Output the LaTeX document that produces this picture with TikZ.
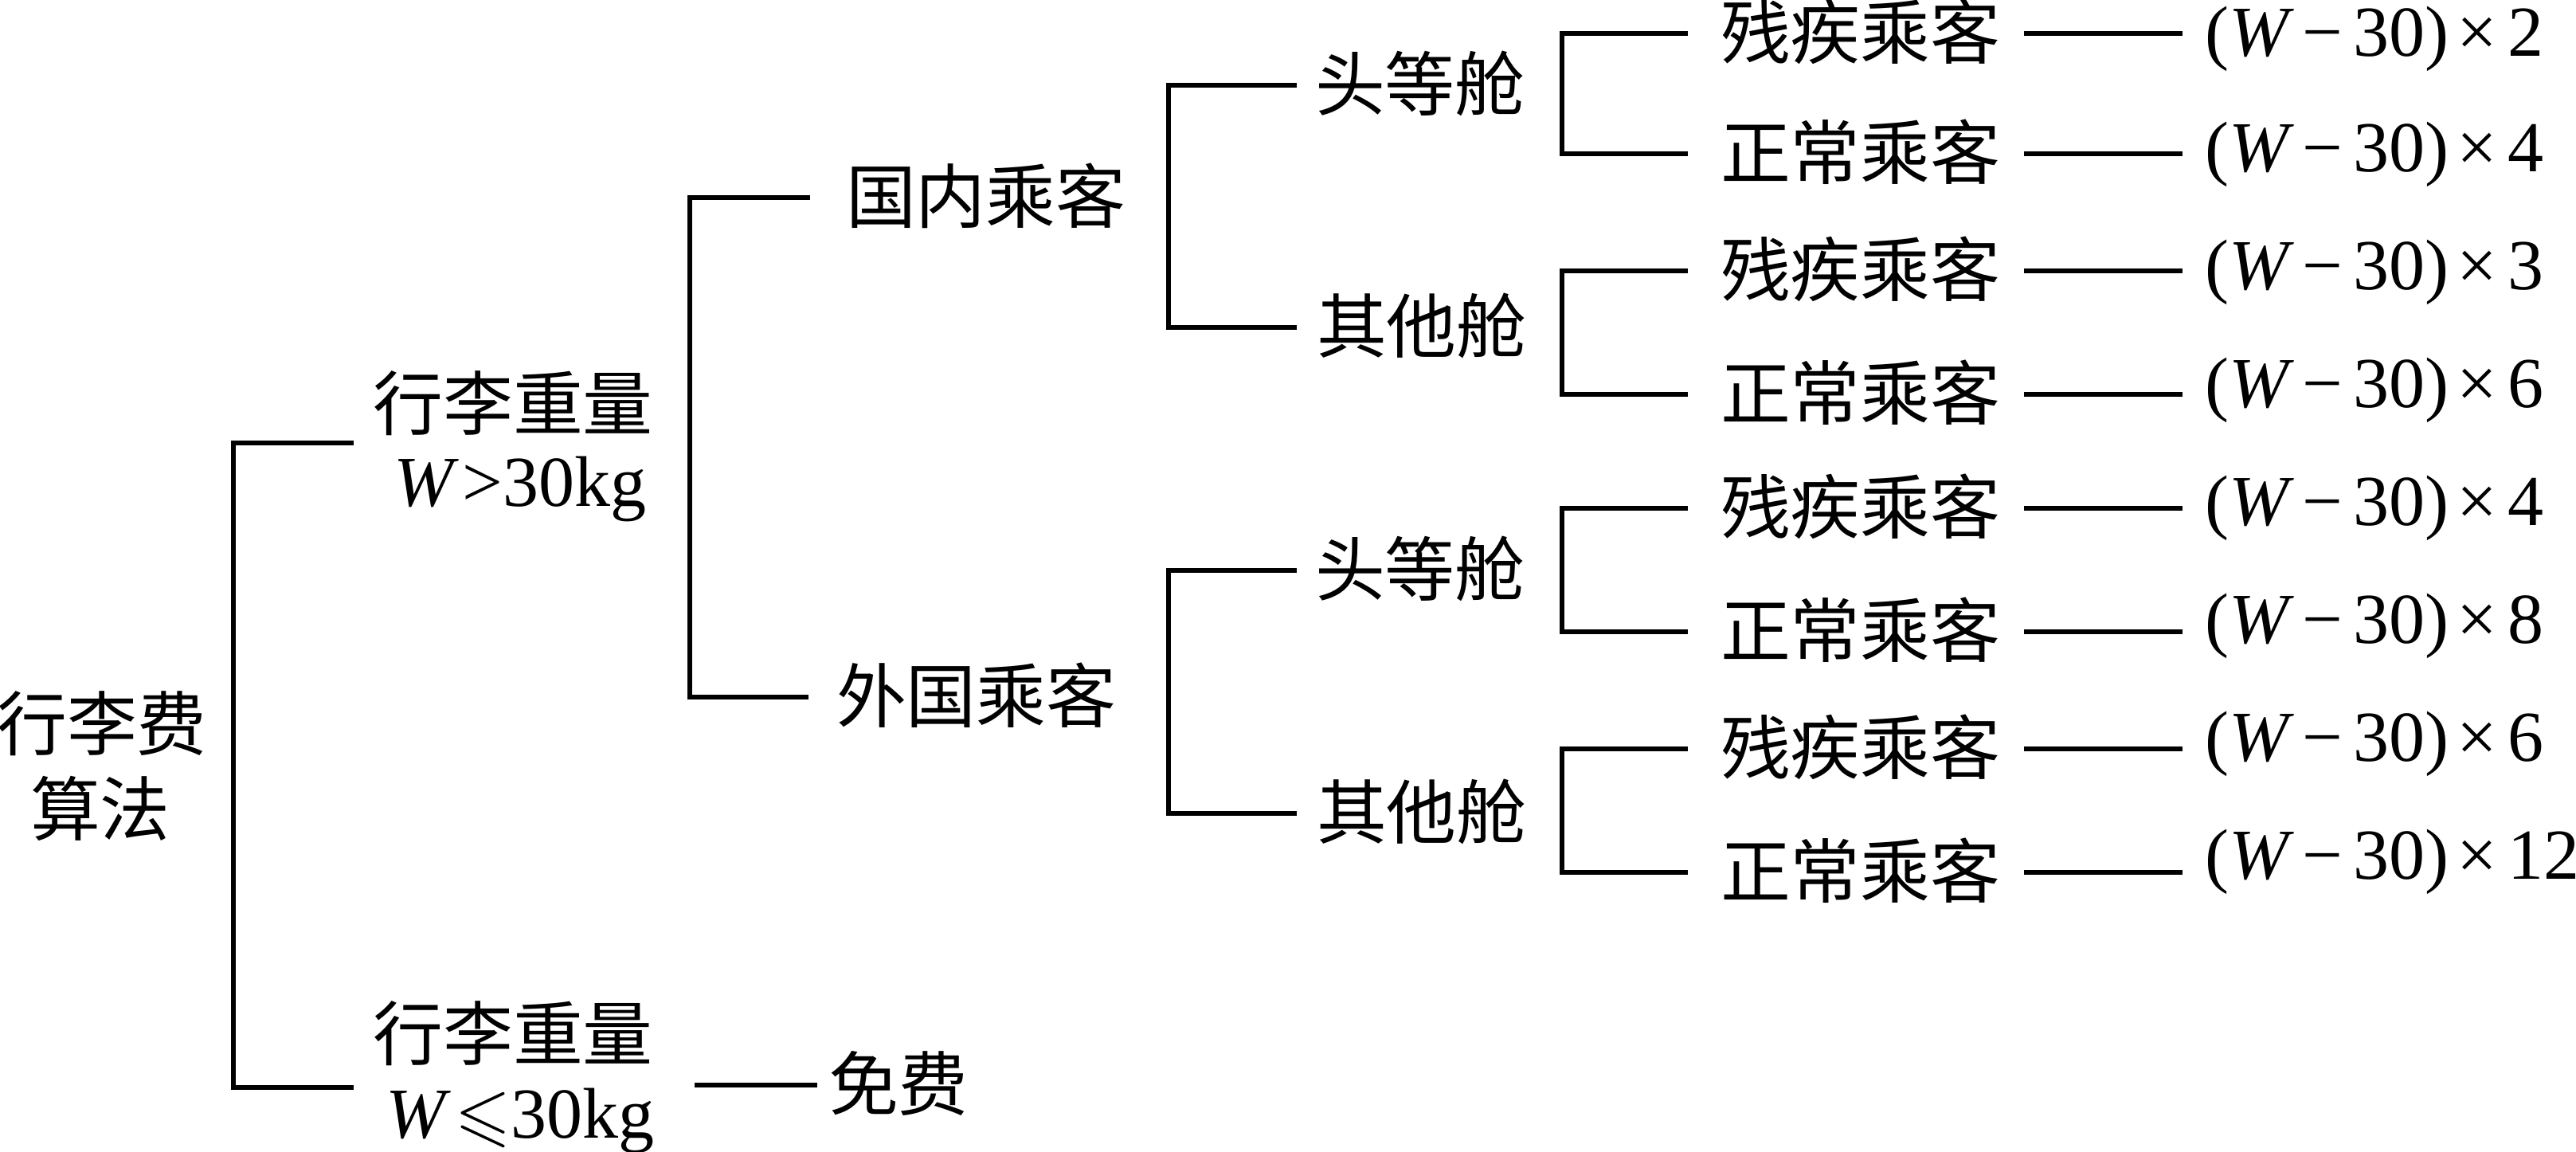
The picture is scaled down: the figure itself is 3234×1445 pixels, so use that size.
\documentclass[tikz,border=0pt]{standalone}
\usepackage{fontspec}
\usepackage{amssymb}
\setmainfont{Liberation Serif}
\newfontfamily\cjk{Noto Sans CJK SC}
\newcommand{\fml}[1]{(\textit{W}\kern0.12em−\kern0.14em30)\kern0.12em×\kern0.14em#1}
\begin{document}
\begin{tikzpicture}[x=0.01cm,y=-0.01cm,
  ln/.style={line width=1.5pt},
  every node/.style={inner sep=0pt,outer sep=0pt,font=\fontsize{25.6}{27}\selectfont},
  cj/.style={anchor=west,text height=0.62cm,text depth=0pt,font=\fontsize{25}{27}\selectfont\cjk},
  cjc/.style={cj,anchor=center},
  fm/.style={anchor=west,text height=0.60cm,text depth=0pt},
  lt/.style={anchor=base}]
\useasboundingbox (0,0) rectangle (3234,1445);
% root
\node[cjc] (r1) at (128,910) {行李费};
\node[cjc] (r2) at (126,1017) {算法};
% level 1
\node[cjc] (a1) at (644,508) {行李重量};
\node[lt] (a2) at (653,635) {\textit{W}\kern0.05em>30kg};
\node[cjc] (b1) at (644,1299) {行李重量};
\node[lt] (b2) at (653,1428) {\textit{W}\kern0.05em$\leqslant$30kg};
\coordinate (ta) at (444,556);
\coordinate (tb) at (444,1365);
\draw[ln] (ta) -- ++(-151,0) |- (tb);
% free
\node[cj] (mf) at (1040,1362) {免费};
\draw[ln] ([xshift=-0.14cm]mf.west) -- ++(-154,0);
% level 2
\node[cj] (gn) at (1062,248) {国内乘客};
\node[cj] (gw) at (1050,875) {外国乘客};
\draw[ln] ([xshift=-0.45cm]gn.west) -- ++(-151,0) |- ([xshift=-0.35cm]gw.west);
% level 3
\node[cj] (c1) at (1651,107) {头等舱};
\node[cj] (c2) at (1653,411) {其他舱};
\node[cj] (c3) at (1651,716) {头等舱};
\node[cj] (c4) at (1653,1021) {其他舱};
\draw[ln] ([xshift=-0.23cm]c1.west) -- ++(-161,0) |- ([xshift=-0.25cm]c2.west);
\draw[ln] ([xshift=-0.23cm]c3.west) -- ++(-161,0) |- ([xshift=-0.25cm]c4.west);
% leaves
\node[cj] (p1) at (2160,42) {残疾乘客};
\node[cj] (p2) at (2160,193) {正常乘客};
\node[cj] (p3) at (2160,340) {残疾乘客};
\node[cj] (p4) at (2160,495) {正常乘客};
\node[cj] (p5) at (2160,638) {残疾乘客};
\node[cj] (p6) at (2160,793) {正常乘客};
\node[cj] (p7) at (2160,940) {残疾乘客};
\node[cj] (p8) at (2160,1095) {正常乘客};
\draw[ln] ([xshift=-0.41cm]p1.west) -- ++(-158,0) |- ([xshift=-0.41cm]p2.west);
\draw[ln] ([xshift=-0.41cm]p3.west) -- ++(-158,0) |- ([xshift=-0.41cm]p4.west);
\draw[ln] ([xshift=-0.41cm]p5.west) -- ++(-158,0) |- ([xshift=-0.41cm]p6.west);
\draw[ln] ([xshift=-0.41cm]p7.west) -- ++(-158,0) |- ([xshift=-0.41cm]p8.west);
% formulas
\node[fm] (f1) at (2768,40) {\fml{2}};
\node[fm] (f2) at (2768,185) {\fml{4}};
\node[fm] (f3) at (2768,333) {\fml{3}};
\node[fm] (f4) at (2768,481) {\fml{6}};
\node[fm] (f5) at (2768,629) {\fml{4}};
\node[fm] (f6) at (2768,777) {\fml{8}};
\node[fm] (f7) at (2768,925) {\fml{6}};
\node[fm] (f8) at (2768,1073) {\fml{12}};
\foreach \i in {1,...,8}{
  \draw[ln] ([xshift=0.29cm]p\i.east) -- ([xshift=-0.28cm]p\i.east -| f\i.west);
}
\end{tikzpicture}
\end{document}
